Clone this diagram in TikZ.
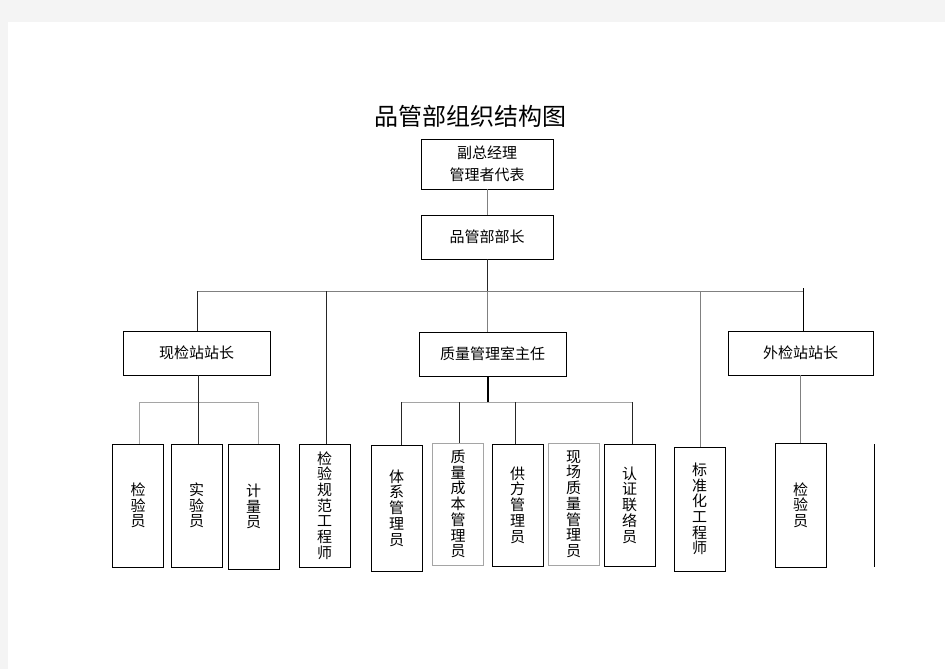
\documentclass[tikz,border=0pt]{standalone}
\usepackage{fontspec}
\newfontfamily\cjk{Noto Sans CJK SC}
\usepackage{xcolor}
\usepackage{tikz}
\usetikzlibrary{shapes,positioning,calc}
\definecolor{pagegray}{RGB}{244,244,244}
\definecolor{linegray}{RGB}{128,128,128}
\definecolor{palegray}{RGB}{165,165,165}
\tikzset{
    rolebox/.style={
        rectangle,
        draw=black,
        line width=0.95pt,
        minimum width=147pt,
        minimum height=44pt,
        inner sep=0pt,
        align=center,
        font=\cjk\fontsize{15}{22}\selectfont
    },
    staffbox/.style={
        rectangle,
        draw=black,
        line width=0.95pt,
        minimum width=51pt,
        minimum height=123pt,
        inner sep=0pt,
        text width=16pt,
        align=center,
        font=\cjk\fontsize{15}{15.7}\selectfont
    },
    link/.style={
        draw=linegray,
        line width=0.9pt
    },
    darklink/.style={
        draw=black!85,
        line width=0.9pt
    }
}

\begin{document}
\begin{tikzpicture}[x=1pt,y=-1pt]
% page
\useasboundingbox (0,0) rectangle (945,669);
\fill[pagegray] (0,0) rectangle (945,669);
\fill[white] (8,22) rectangle (945,669);

% title
\node[font=\cjk\fontsize{24}{28}\selectfont] (title) at (470,116) {品管部组织结构图};

% top
\node[rolebox, minimum width=132pt, minimum height=50pt] (boss) at (487,164) {副总经理\\管理者代表};
\node[rolebox, minimum width=132pt] (head) at (487,237) {品管部部长};

% second row
\node[rolebox] (xj) at (196.5,353) {现检站站长};
\node[rolebox] (zl) at (492.5,354) {质量管理室主任};
\node[rolebox, minimum width=145pt] (wj) at (800.5,353) {外检站站长};

% staff
\node[staffbox] (jy1) at (138,505.5) {检\\验\\员};
\node[staffbox] (sy) at (196.5,505.5) {实\\验\\员};
\node[staffbox, minimum height=125pt] (jl) at (253.5,506.5) {计\\量\\员};
\node[staffbox] (gf) at (324.5,505.5) {检\\验\\规\\范\\工\\程\\师};
\node[staffbox, minimum height=126pt] (tx) at (396.5,508) {体\\系\\管\\理\\员};
\node[staffbox, draw=palegray, minimum height=122pt] (cb) at (458,504) {质\\量\\成\\本\\管\\理\\员};
\node[staffbox, minimum height=122pt] (gy) at (517.5,505) {供\\方\\管\\理\\员};
\node[staffbox, draw=palegray, minimum height=122pt] (xc) at (573.5,504) {现\\场\\质\\量\\管\\理\\员};
\node[staffbox, minimum height=122pt] (rz) at (629.5,505) {认\\证\\联\\络\\员};
\node[staffbox, minimum height=124pt] (bz) at (699.5,509) {标\\准\\化\\工\\程\\师};
\node[staffbox, minimum height=124pt] (jy2) at (800.5,505) {检\\验\\员};

% bus
\coordinate (bus-l) at (197,291);
\coordinate (bus-m) at (326,291);
\coordinate (bus-c) at (487,291);
\coordinate (bus-s) at (700,291);
\coordinate (bus-r) at (803,291);
\coordinate (xa) at (139,402);
\coordinate (xb) at (198,402);
\coordinate (xc) at (258,402);
\coordinate (qa) at (401,402);
\coordinate (qb) at (459,402);
\coordinate (qm) at (488,402);
\coordinate (qc) at (515,402);
\coordinate (qd) at (574,402);
\coordinate (qe) at (632,402);
\coordinate (cut-t) at (874,444);
\coordinate (cut-b) at (874,567);

\draw[link] (boss.south) -- (head.north);
\draw[darklink] (head.south) -- (bus-c);
\draw[link] (bus-l) -- (bus-r);
\draw[darklink] (bus-l) -- (bus-l |- xj.north);
\draw[darklink] (bus-m) -- (bus-m |- gf.north);
\draw[link] (bus-c) -- (bus-c |- zl.north);
\draw[link] (bus-s) -- (bus-s |- bz.north);
\draw[black, line width=1pt] ($(bus-r)+(0,-3)$) -- (bus-r |- wj.north);

% field station
\draw[link, draw=palegray] (xa) -- (xc);
\draw[darklink] (xb |- xj.south) -- (xb |- sy.north);
\draw[link, draw=palegray] (xa) -- (xa |- jy1.north);
\draw[link, draw=palegray] (xc) -- (xc |- jl.north);

% quality office
\draw[black, line width=2pt] (qm |- zl.south) -- (qm);
\draw[link, draw=palegray] (qa) -- (qe);
\foreach \c/\b in {qa/tx, qb/cb, qc/gy, qd/xc, qe/rz}
    \draw[darklink] (\c) -- (\c |- \b.north);

% outside station
\draw[link] (wj.south) -- (jy2.north);
\draw[black, line width=1pt] (cut-t) -- (cut-b);
\end{tikzpicture}
\end{document}
